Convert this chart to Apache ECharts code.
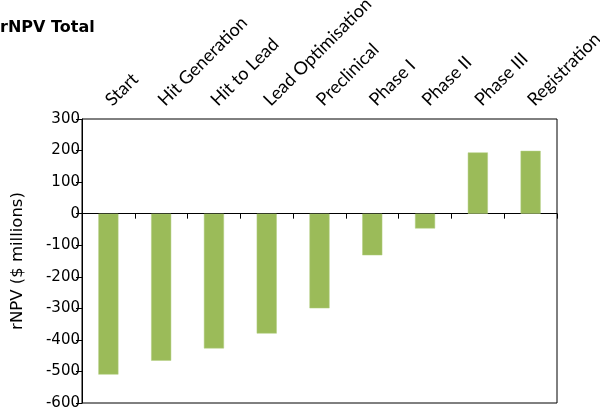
<!DOCTYPE html>
<html>
<head>
<meta charset="utf-8">
<script src="https://cdn.jsdelivr.net/npm/echarts@6/dist/echarts.min.js"></script>
<style>html,body{margin:0;padding:0;background:#fff;}#c{width:600px;height:413px;}</style>
</head>
<body>
<div id="c"></div>
<script>
const categories = ['Start', 'Hit Generation', 'Hit to Lead', 'Lead Optimisation', 'Preclinical', 'Phase I', 'Phase II', 'Phase III', 'Registration'];
const rnpvValues = [-510, -466, -427, -380, -300, -132, -47, 194, 199];
const yTicks = { min: -600, max: 300, interval: 100 };

const chart = echarts.init(document.getElementById('c'), null, { renderer: 'canvas' });
chart.setOption({
  animation: false,
  backgroundColor: '#fff',
  title: {
    text: 'rNPV Total',
    left: 0,
    top: 20,
    padding: 0,
    textStyle: { fontFamily: 'DejaVu Sans', fontWeight: 'bold', fontSize: 16, color: '#000' }
  },
  grid: {
    left: 82, right: 43, top: 119, bottom: 10,
    outerBoundsMode: 'none',
    containLabel: false,
    show: true, borderColor: '#000', borderWidth: 1, backgroundColor: 'transparent'
  },
  xAxis: [
    {
      type: 'category',
      data: categories,
      position: 'top',
      axisLine: { show: false, onZero: false },
      axisTick: { show: false },
      axisLabel: {
        rotate: -45,
        interval: 0,
        margin: 16,
        fontFamily: 'Lato',
        fontSize: 18,
        color: '#000'
      }
    },
    {
      type: 'category',
      data: categories,
      position: 'bottom',
      axisLine: { show: true, onZero: true, lineStyle: { color: '#000', width: 1 } },
      axisTick: { show: true, inside: false, length: 5, interval: 0, lineStyle: { color: '#000' } },
      axisLabel: { show: false }
    }
  ],
  yAxis: {
    type: 'value',
    min: yTicks.min,
    max: yTicks.max,
    interval: yTicks.interval,
    name: 'rNPV ($ millions)',
    nameLocation: 'middle',
    nameGap: 56,
    nameTextStyle: { fontFamily: 'DejaVu Sans', fontSize: 16.5, color: '#000' },
    axisLine: { show: true, lineStyle: { color: '#000', width: 1 } },
    axisTick: { show: true, inside: false, length: 6, lineStyle: { color: '#000' } },
    axisLabel: { margin: 2, fontFamily: 'DejaVu Sans', fontSize: 15, color: '#000' },
    splitLine: { show: false }
  },
  series: [{
    type: 'bar',
    xAxisIndex: 0,
    data: rnpvValues,
    barWidth: '38%',
    itemStyle: { color: '#9bbb59', borderColor: '#b3cf80', borderWidth: 0.5 }
  }]
});
</script>
</body>
</html>
